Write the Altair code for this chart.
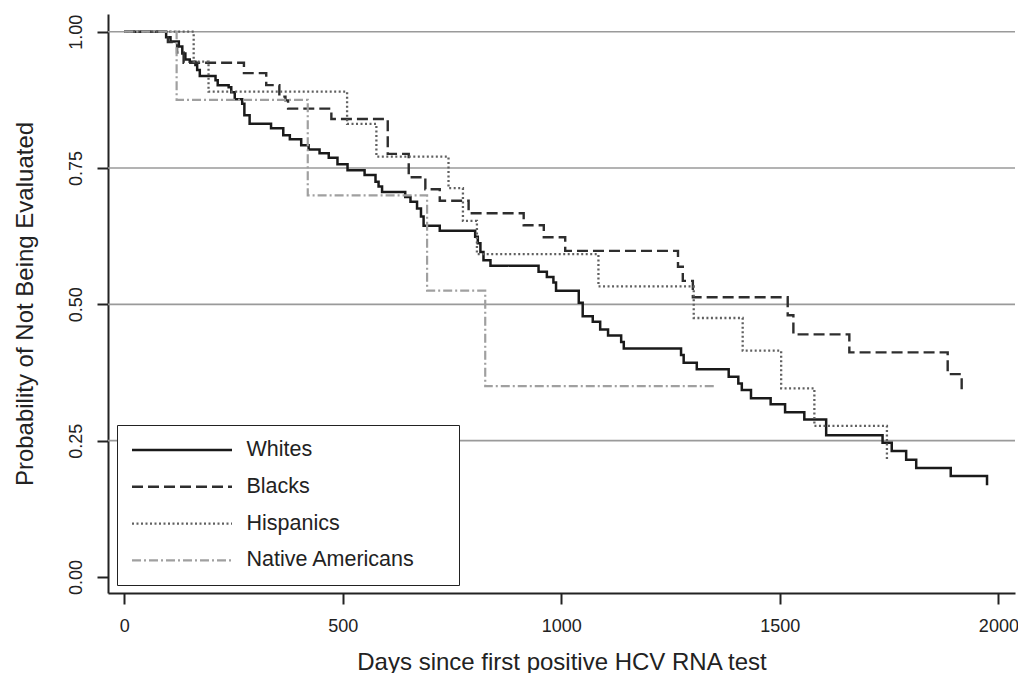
import altair as alt
import pandas as pd

groups = ["Whites", "Blacks", "Hispanics", "Native Americans"]

whites_days = [0, 96, 106, 125, 133, 140, 150, 163, 167, 173, 209, 214, 239, 245, 253, 270, 275, 287, 336, 364,
               379, 405, 422, 447, 468, 488, 511, 550, 575, 582, 590, 643, 655, 670, 679, 685, 722, 803, 809, 815,
               822, 838, 948, 967, 982, 988, 1040, 1049, 1072, 1089, 1107, 1137, 1143, 1274, 1280, 1310, 1383, 1405,
               1413, 1434, 1479, 1512, 1556, 1606, 1735, 1756, 1789, 1812, 1891, 1974]
whites_prob = [1.0, 0.99, 0.982, 0.973, 0.96, 0.949, 0.945, 0.939, 0.930, 0.919, 0.911, 0.902, 0.898, 0.889, 0.876,
               0.868, 0.847, 0.831, 0.823, 0.81, 0.803, 0.792, 0.784, 0.777, 0.769, 0.757, 0.746, 0.737, 0.725, 0.716,
               0.706, 0.697, 0.688, 0.676, 0.661, 0.644, 0.635, 0.624, 0.612, 0.596, 0.581, 0.571, 0.560, 0.550, 0.540,
               0.525, 0.503, 0.478, 0.468, 0.454, 0.443, 0.431, 0.419, 0.407, 0.393, 0.381, 0.367, 0.355, 0.343, 0.328,
               0.317, 0.302, 0.289, 0.260, 0.246, 0.231, 0.215, 0.200, 0.185, 0.168]

blacks_days = [0, 100, 121, 136, 274, 325, 355, 369, 375, 474, 603, 651, 689, 722, 788, 914, 960, 1009, 1267, 1278,
               1301, 1518, 1531, 1659, 1884, 1916]
blacks_prob = [1.0, 0.981, 0.962, 0.943, 0.924, 0.902, 0.881, 0.874, 0.859, 0.840, 0.776, 0.733, 0.711, 0.690, 0.667,
               0.645, 0.623, 0.598, 0.569, 0.543, 0.513, 0.480, 0.445, 0.412, 0.372, 0.336]

hispanics_days = [0, 159, 193, 510, 577, 742, 775, 807, 1085, 1303, 1415, 1503, 1579, 1745]
hispanics_prob = [1.0, 0.945, 0.890, 0.831, 0.771, 0.713, 0.653, 0.592, 0.533, 0.475, 0.415, 0.346, 0.277, 0.213]

native_days = [0, 120, 420, 693, 826, 1351]
native_prob = [1.0, 0.875, 0.70, 0.525, 0.35, 0.35]

grid_values = [0.25, 0.5, 0.75, 1.0]
x_ticks = [0, 500, 1000, 1500, 2000]
y_ticks = [0, 0.25, 0.5, 0.75, 1.0]

line_colors = ["#1a1a1a", "#2e2e2e", "#606060", "#a0a0a0"]
line_dashes = [[1, 0], [11, 5], [2, 2.5], [9, 3, 2, 3]]
line_widths = [2.5, 2.2, 1.6, 1.6]

rows = []
for g, ds, ps in [("Whites", whites_days, whites_prob), ("Blacks", blacks_days, blacks_prob),
                  ("Hispanics", hispanics_days, hispanics_prob), ("Native Americans", native_days, native_prob)]:
    for i, (d, p) in enumerate(zip(ds, ps)):
        rows.append({"group": g, "days": d, "prob": p, "order": i})
df = pd.DataFrame(rows)
grid_df = pd.DataFrame({"prob": grid_values})

W, H = 907, 579
FONT = "Liberation Sans"
INK = "#222222"
PAD_TAIL = "\u00a0" * 5 + "\u200b"

xscale = alt.Scale(domain=[-37, 2038], nice=False, zero=False)
yscale = alt.Scale(domain=[-0.0294, 1.0325], nice=False, zero=False)

xaxis = alt.Axis(values=x_ticks, format="d", title="Days since first positive HCV RNA test", grid=False,
                 tickSize=11, tickWidth=2, tickColor=INK, domainColor=INK, domainWidth=2,
                 labelFontSize=18, labelPadding=13, labelColor=INK, labelFont=FONT, labelFlush=False,
                 titleFontSize=24, titleFontWeight="normal", titleColor=INK, titleFont=FONT,
                 titleX=W / 2, titleY=76, titleBaseline="alphabetic", titleAlign="center")
yaxis = alt.Axis(values=y_ticks, format=".2f", title="Probability of Not Being Evaluated", grid=False,
                 tickSize=11, tickWidth=2, tickColor=INK, domainColor=INK, domainWidth=2,
                 labelFontSize=18, labelPadding=12, labelColor=INK, labelFont=FONT, labelFlush=False,
                 labelAngle=270, labelAlign="center", labelBaseline="bottom",
                 titleFontSize=24, titleFontWeight="normal", titleColor=INK, titleFont=FONT,
                 titleX=-76, titleY=H / 2, titleAngle=270, titleBaseline="alphabetic", titleAlign="center")

y_enc = alt.Y("prob:Q", scale=yscale, axis=yaxis)

grid = alt.Chart(grid_df).mark_rule(color="#9a9a9a", strokeWidth=1.6).encode(
    y=y_enc, x=alt.value(0), x2=alt.value(W)
)

legend = alt.Legend(title=None, orient="none", legendX=9, legendY=411, symbolType="M-1,0H9",
                    symbolSize=400, labelFontSize=21.5, labelColor=INK, labelFont=FONT, labelLimit=500,
                    labelOffset=93, padding=13.5, rowPadding=14.8, strokeColor=INK, fillColor="white",
                    labelExpr="datum.label + '" + PAD_TAIL + "'")

lines = alt.Chart(df).mark_line(interpolate="step-after").encode(
    x=alt.X("days:Q", scale=xscale, axis=xaxis),
    y=y_enc,
    color=alt.Color("group:N", scale=alt.Scale(domain=groups, range=line_colors), legend=legend),
    strokeDash=alt.StrokeDash("group:N", scale=alt.Scale(domain=groups, range=line_dashes), legend=legend),
    strokeWidth=alt.StrokeWidth("group:N", scale=alt.Scale(domain=groups, range=line_widths), legend=legend),
    order="order:Q",
)

chart = alt.layer(grid, lines).properties(
    width=W, height=H,
    autosize=alt.AutoSizeParams(type="none"),
    padding={"left": 100, "top": 6, "right": 3, "bottom": 80},
    background="white",
).configure_view(stroke=None)

chart.save("out.html", embed_options={"renderer": "svg", "actions": False})
